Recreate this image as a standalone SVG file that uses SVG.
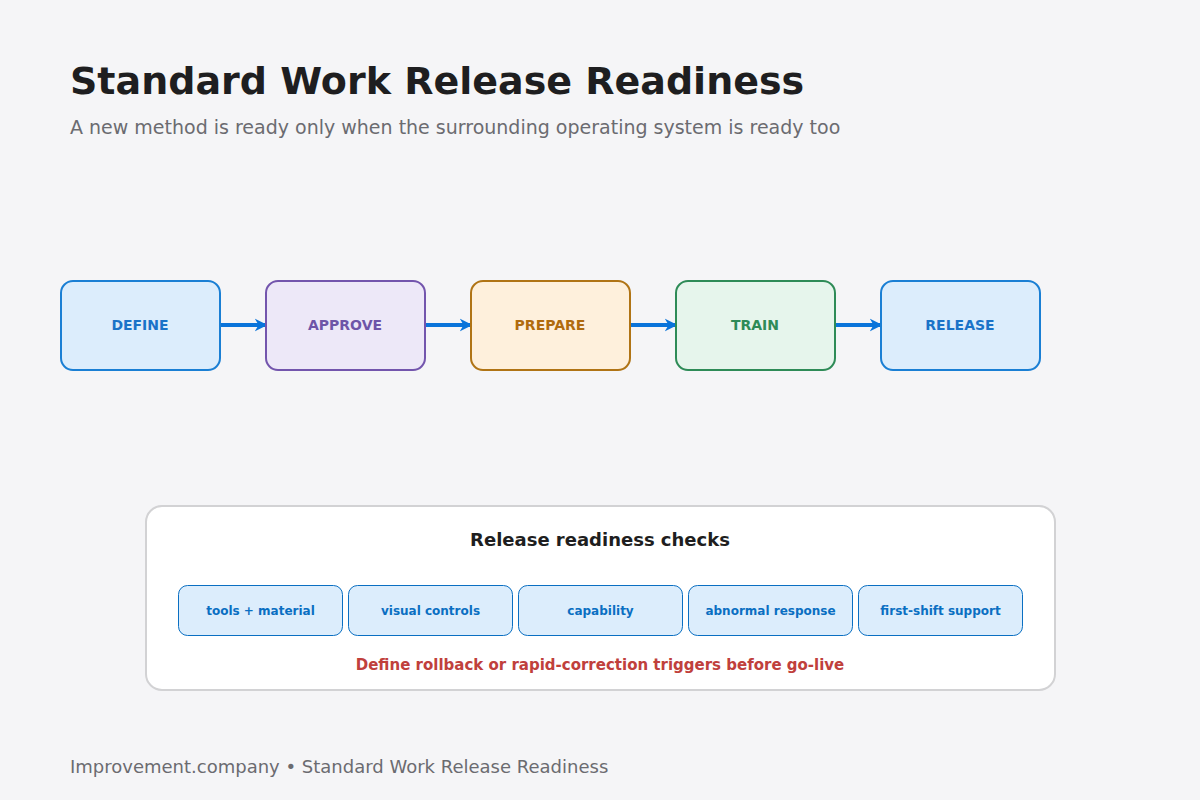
<svg xmlns="http://www.w3.org/2000/svg" width="1200" height="800" viewBox="0 0 1200 800">
<defs>
<style>
text{font-family:"DejaVu Sans","Liberation Sans",sans-serif}
.title{font-size:38px;font-weight:bold;fill:#1e1e20}
.sub{font-size:19px;fill:#6b6b70}
.foot{font-size:18px;fill:#6b6b70}
.nl{font-size:14px;font-weight:bold;text-anchor:middle}
.node{stroke-width:2}
.conn{stroke:#0a74da;stroke-width:4;fill:none;marker-end:url(#ah)}
.chip{fill:#dcedfc;stroke:#0a6fc2;stroke-width:1}
.cl{font-size:12px;font-weight:bold;fill:#0a6fc2;text-anchor:middle}
</style>
<marker id="ah" viewBox="0 0 10 10" refX="8" refY="5" markerWidth="3.2" markerHeight="3.8" orient="auto" markerUnits="strokeWidth">
<path d="M0,0 L10,5 L0,10 L3,5 z" fill="#0a74da"/>
</marker>
</defs>
<rect width="1200" height="800" fill="#f5f5f7"/>
<text class="title" x="70" y="94">Standard Work Release Readiness</text>
<text class="sub" x="70" y="134">A new method is ready only when the surrounding operating system is ready too</text>

<g id="connectors">
<line class="conn" x1="221" y1="325" x2="265" y2="325"/>
<line class="conn" x1="426" y1="325" x2="470" y2="325"/>
<line class="conn" x1="631" y1="325" x2="675" y2="325"/>
<line class="conn" x1="836" y1="325" x2="880" y2="325"/>
</g>

<g id="define"><rect class="node" x="61" y="281" width="159" height="89" rx="12" fill="#dcedfc" stroke="#1a7fd4"/><text class="nl" x="140" y="330" fill="#1a73c8">DEFINE</text></g>
<g id="approve"><rect class="node" x="266" y="281" width="159" height="89" rx="12" fill="#ede8f8" stroke="#7355ad"/><text class="nl" x="345" y="330" fill="#6e55a8">APPROVE</text></g>
<g id="prepare"><rect class="node" x="471" y="281" width="159" height="89" rx="12" fill="#fef0dc" stroke="#b07415"/><text class="nl" x="550" y="330" fill="#b06b0e">PREPARE</text></g>
<g id="train"><rect class="node" x="676" y="281" width="159" height="89" rx="12" fill="#e6f5ec" stroke="#2e8b57"/><text class="nl" x="755" y="330" fill="#2e8b57">TRAIN</text></g>
<g id="release"><rect class="node" x="881" y="281" width="159" height="89" rx="12" fill="#dcedfc" stroke="#1a7fd4"/><text class="nl" x="960" y="330" fill="#1a73c8">RELEASE</text></g>

<g id="checks">
<rect x="146" y="506" width="909" height="184" rx="16" fill="#ffffff" stroke="#d2d2d4" stroke-width="2"/>
<text x="600" y="546" font-size="18" font-weight="bold" fill="#1e1e20" text-anchor="middle">Release readiness checks</text>
<g id="chip1"><rect class="chip" x="178.5" y="585.5" width="164" height="50" rx="9"/><text class="cl" x="260.5" y="615">tools + material</text></g>
<g id="chip2"><rect class="chip" x="348.5" y="585.5" width="164" height="50" rx="9"/><text class="cl" x="430.5" y="615">visual controls</text></g>
<g id="chip3"><rect class="chip" x="518.5" y="585.5" width="164" height="50" rx="9"/><text class="cl" x="600.5" y="615">capability</text></g>
<g id="chip4"><rect class="chip" x="688.5" y="585.5" width="164" height="50" rx="9"/><text class="cl" x="770.5" y="615">abnormal response</text></g>
<g id="chip5"><rect class="chip" x="858.5" y="585.5" width="164" height="50" rx="9"/><text class="cl" x="940.5" y="615">first-shift support</text></g>
<text x="600" y="670" font-size="15" font-weight="bold" fill="#c0403c" text-anchor="middle">Define rollback or rapid-correction triggers before go-live</text>
</g>

<text class="foot" x="70" y="773">Improvement.company • Standard Work Release Readiness</text>
</svg>
